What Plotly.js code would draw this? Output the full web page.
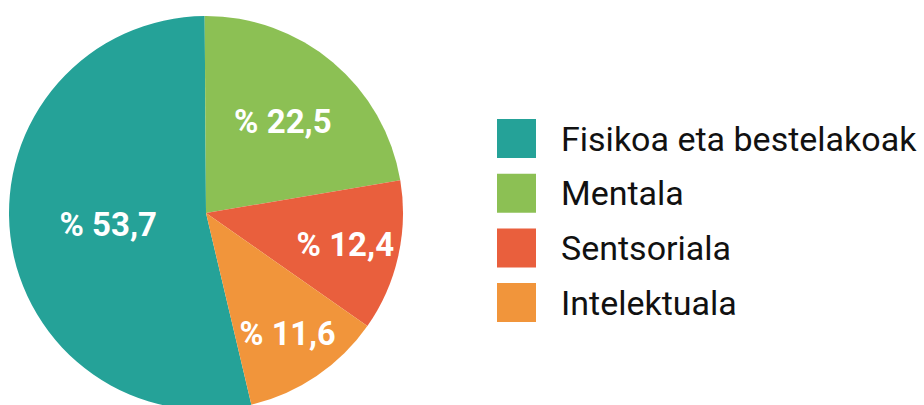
<!DOCTYPE html>
<html>
<head>
<meta charset="utf-8">
<script src="https://cdn.plot.ly/plotly-3.0.1.min.js"></script>
<style>
  html, body { margin: 0; padding: 0; overflow: hidden; background: #fff; }
  #chart { width: 924px; height: 410px; }
</style>
</head>
<body>
<div id="chart"></div>
<script>
// Data
const labels = ["Fisikoa eta bestelakoak", "Mentala", "Sentsoriala", "Intelektuala"];
const values = [53.7, 22.5, 12.4, 11.6];
const colors = ["#25a298", "#8cc054", "#e95f3d", "#f1953b"];

const W = 924, H = 410;
const sliceText = values.map(v => "% " + v.toFixed(1).replace(".", ","));

const trace = {
  type: "pie",
  labels: labels,
  values: values,
  text: sliceText,
  textinfo: "text",
  textposition: "inside",
  insidetextorientation: "horizontal",
  sort: false,
  direction: "clockwise",
  rotation: 180 - (values[0] - 50) * 3.6,
  marker: { colors: colors, line: { width: 0 } },
  textfont: { family: "Roboto", size: 33, color: "#ffffff", weight: "bold" },
  domain: { x: [9 / W, 403 / W], y: [0, (H - 16) / H] },
  hoverinfo: "label+percent",
  showlegend: false
};

// Custom legend (large square swatches)
const shapes = [], annotations = [];
const legX = 497, sw = 39, legY0 = 138.5, legStep = 54.7;
labels.forEach((lab, i) => {
  const cy = legY0 + i * legStep;
  shapes.push({
    type: "rect", xref: "paper", yref: "paper",
    x0: legX / W, x1: (legX + sw) / W,
    y0: (H - (cy + sw / 2)) / H, y1: (H - (cy - sw / 2)) / H,
    fillcolor: colors[i], line: { width: 0 }
  });
  annotations.push({
    xref: "paper", yref: "paper",
    x: 559 / W, y: (H - cy) / H,
    xanchor: "left", yanchor: "middle",
    text: lab, showarrow: false,
    font: { family: "Roboto", size: 34, color: "#111111" }
  });
});

const layout = {
  width: W, height: H,
  margin: { l: 0, r: 0, t: 0, b: 0 },
  paper_bgcolor: "#ffffff",
  showlegend: false,
  shapes: shapes,
  annotations: annotations
};

Plotly.newPlot("chart", [trace], layout, { displayModeBar: false, staticPlot: true });
</script>
</body>
</html>
